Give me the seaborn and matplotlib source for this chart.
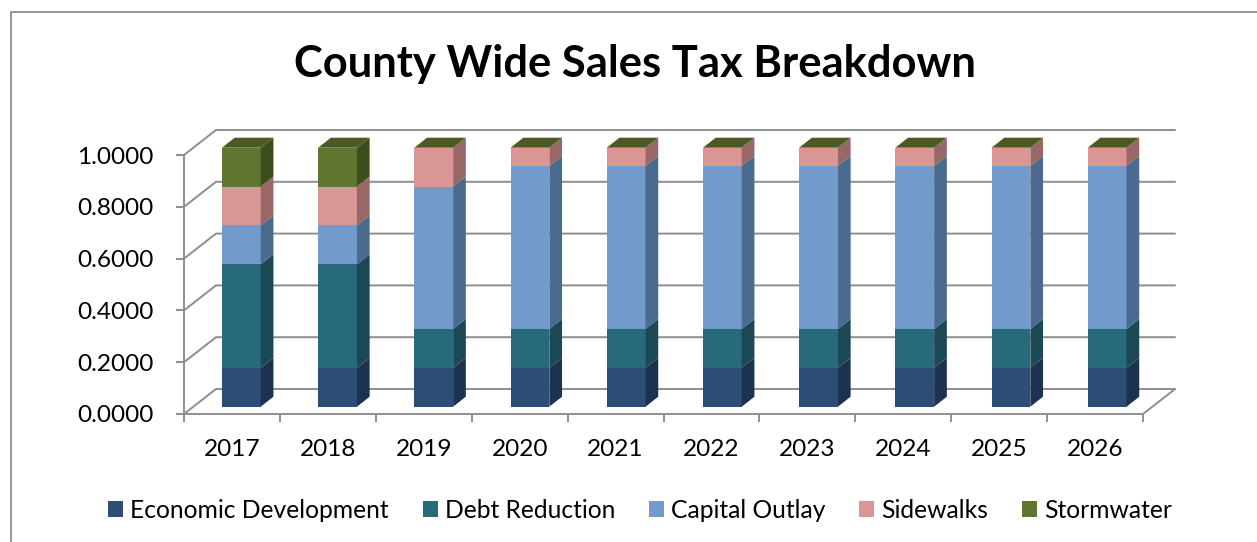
import matplotlib
matplotlib.use("Agg")
import matplotlib.pyplot as plt
import numpy as np
import seaborn as sns
from matplotlib.lines import Line2D
from matplotlib.patches import Patch, Polygon

# Share of the county-wide sales tax by use and year
years = ["2017", "2018", "2019", "2020", "2021", "2022", "2023", "2024", "2025", "2026"]
economic_development = [0.15] * 10
debt_reduction = [0.40, 0.40, 0.15, 0.15, 0.15, 0.15, 0.15, 0.15, 0.15, 0.15]
capital_outlay = [0.15, 0.15, 0.55, 0.63, 0.63, 0.63, 0.63, 0.63, 0.63, 0.63]
sidewalks = [0.15, 0.15, 0.15, 0.07, 0.07, 0.07, 0.07, 0.07, 0.07, 0.07]
stormwater = [0.15, 0.15, 0.0, 0.0, 0.0, 0.0, 0.0, 0.0, 0.0, 0.0]

series_names = ["Economic Development", "Debt Reduction", "Capital Outlay", "Sidewalks", "Stormwater"]
series_values = [economic_development, debt_reduction, capital_outlay, sidewalks, stormwater]
front_colors = ["#2C4D75", "#276A7C", "#729ACA", "#D99694", "#5F7530"]
side_colors = ["#1D3250", "#1B4853", "#4A6A8E", "#976866", "#3E4D1E"]
top_color = "#4A5A22"
y_ticks = [0.0, 0.2, 0.4, 0.6, 0.8, 1.0]

sns.set_theme(style="white")
plt.rcParams["font.family"] = ["Lato", "DejaVu Sans"]

W, H = 1257, 542
GRAY = "#8E8E8E"
LINE = 1.4
fig = plt.figure(figsize=(W / 100, H / 100), dpi=100, facecolor="white")


def axes_rect(left, right, top, bottom):
    return [left / W, 1 - bottom / H, (right - left) / W, (bottom - top) / H]


# Front plane of the box: carries the ticks and their labels
frame = fig.add_axes(axes_rect(184, 1143, 155, 414), facecolor="none")
frame.set_xlim(-0.5, 9.5)
frame.set_ylim(0, 1)
for side in ("top", "right"):
    frame.spines[side].set_visible(False)
for side in ("left", "bottom"):
    frame.spines[side].set_color(GRAY)
    frame.spines[side].set_linewidth(LINE)
frame.set_yticks(y_ticks, [f"{v:.4f}" for v in y_ticks], fontsize=17.6, color="black")
frame.set_xticks(np.arange(-0.5, 10, 1), [""] * 11)
frame.set_xticks(np.arange(10), years, minor=True, fontsize=17.6, color="black")
frame.tick_params(axis="y", which="major", left=True, length=5.5, width=LINE, color=GRAY, pad=16.4)
frame.tick_params(axis="x", which="major", bottom=True, length=5.5, width=LINE, color=GRAY)
frame.tick_params(axis="x", which="minor", bottom=False, length=0, pad=18)

# Receding floor and wall lines behind the bars
depth_x = 32 / 95.9
depth_y = 25 / 259
for v in y_ticks:
    frame.plot([-0.5, -0.5 + depth_x, 9.5 + depth_x], [v, v + depth_y, v + depth_y],
               color=GRAY, lw=LINE, clip_on=False, zorder=1, solid_joinstyle="miter")
frame.plot([9.5, 9.5 + depth_x], [0, depth_y], color=GRAY, lw=LINE, clip_on=False, zorder=1)

# Plane of the bars' front faces, set back from the front of the box
ax = fig.add_axes(axes_rect(193.25, 1155.25, 147.7, 406.7), facecolor="none")
bar_width = 0.403
bottoms = np.zeros(len(years))
for name, values, color in zip(series_names, series_values, front_colors):
    sns.barplot(x=years, y=values, bottom=bottoms, color=color, saturation=1,
                width=bar_width, ax=ax, linewidth=0, zorder=3)
    bottoms = bottoms + np.array(values)
ax.set_xlim(-0.5, 9.5)
ax.set_ylim(0, 1)
ax.axis("off")

# Extruded right-hand faces and the top cap of each column
bar_dx = 12.7 / 96.2
bar_dy = 10 / 259
for i in range(len(years)):
    right = i + bar_width / 2
    left = i - bar_width / 2
    level = 0.0
    for values, color in zip(series_values, side_colors):
        upper = level + values[i]
        if values[i] > 0:
            ax.add_patch(Polygon(
                [(right, level), (right + bar_dx, level + bar_dy),
                 (right + bar_dx, upper + bar_dy), (right, upper)],
                closed=True, facecolor=color, edgecolor="none", clip_on=False, zorder=3))
        level = upper
    ax.add_patch(Polygon(
        [(left, level), (right, level), (right + bar_dx, level + bar_dy), (left + bar_dx, level + bar_dy)],
        closed=True, facecolor=top_color, edgecolor="none", clip_on=False, zorder=3))

fig.text(634.5 / W, 1 - 64 / H, "County Wide Sales Tax Breakdown", ha="center", va="center",
         fontsize=31.3, fontweight="bold", color="black")

handles = [Patch(facecolor=c, edgecolor="none") for c in front_colors]
fig.legend(handles, series_names, loc="center", bbox_to_anchor=(640 / W, 1 - 510.5 / H), ncol=5,
           frameon=False, fontsize=17.7, handlelength=0.61, handleheight=0.61,
           handletextpad=0.3, columnspacing=1.36, borderpad=0, labelcolor="black")

# Chart-area border along the top and left
fig.add_artist(Line2D([11 / W, 11 / W, 1], [0, 1 - 11.5 / H, 1 - 11.5 / H],
                      transform=fig.transFigure, color=GRAY, lw=1.3))

fig.savefig("out.png", dpi=100, facecolor="white")
